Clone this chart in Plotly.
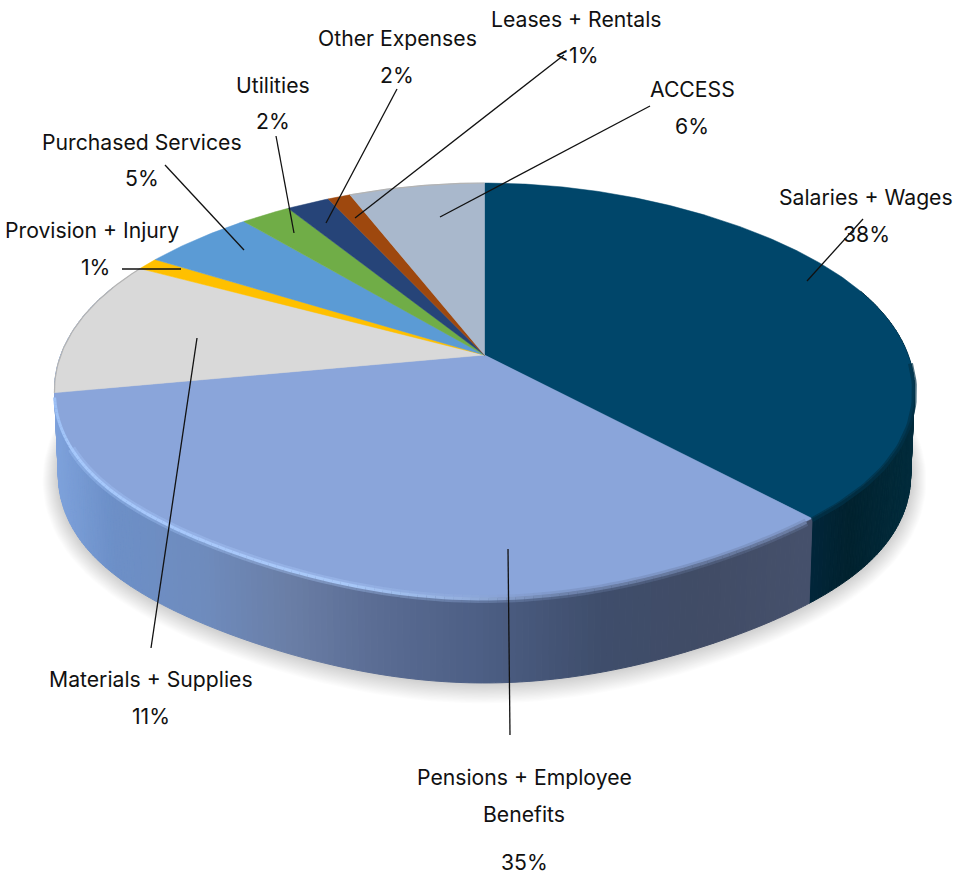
import numpy as np
import plotly.graph_objects as go

# ---------- data ----------
categories = ["Salaries + Wages", "Pensions + Employee Benefits", "Materials + Supplies",
              "Provision + Injury", "Purchased Services", "Utilities",
              "Other Expenses", "Leases + Rentals", "ACCESS"]
shares = [38.2, 33.9, 10.8, 1.0, 5.0, 2.2, 1.9, 1.0, 6.0]
percent_labels = ["38%", "35%", "11%", "1%", "5%", "2%", "2%", "<1%", "6%"]
colors = ["#00466a", "#8aa5da", "#d9d9d9", "#ffc000", "#5b9bd5",
          "#70ad47", "#264478", "#9e480e", "#a9b8cc"]

# ---------- geometry of the tilted disc ----------
CX, CY = 484.5, 355.0
A, B, K = 423.7, 201.4, 0.171
DEPTH = 85.0
MID_Y = 390.0


def project(deg):
    t = np.radians(deg)
    u, v = np.sin(t), np.cos(t)
    w = 1 + K * v
    x, y = CX + A * u / w, CY - B * v / w
    # the drawn disc is slightly flatter at the shoulders than a true ellipse
    n2 = np.clip(((x - CX) / 430.0) ** 2, 0, 1)
    c = np.where(y > MID_Y, 0.05, 0.02)
    y = MID_Y + (y - MID_Y) * (1 - c * 4 * n2 * (1 - n2))
    return x, y


def bottom(deg):
    x, y = project(deg)
    return CX + (x - CX) * 0.991, y + DEPTH


def hex_rgb(h):
    return np.array([int(h[i:i + 2], 16) for i in (1, 3, 5)], float)


def ramp(x, xs, cols):
    rgb = [np.interp(x, xs, [hex_rgb(c)[i] for c in cols]) for i in range(3)]
    return "rgb(%d,%d,%d)" % tuple(rgb)


fig = go.Figure()


def poly(xs, ys, fill, line=None, width=0.8):
    fig.add_trace(go.Scatter(x=xs, y=ys, mode="lines", fill="toself", fillcolor=fill,
                             line=dict(color=line or fill, width=width),
                             hoverinfo="skip", showlegend=False))


def stroke(xs, ys, color, width):
    fig.add_trace(go.Scatter(x=xs, y=ys, mode="lines", line=dict(color=color, width=width),
                             hoverinfo="skip", showlegend=False))


edges = np.concatenate([[0], np.cumsum(shares)]) * 3.6
edges[-1] = 360.0
split = edges[1]

# ---------- soft shadow ----------
circle = np.linspace(0, 360, 181)
bx, by = bottom(circle)
cy_b = MID_Y + DEPTH
for e in range(16, 0, -1):
    poly(CX + (bx - CX) * (1 + e / 430), cy_b + (by - cy_b) * (1 + e / 210) + e * 0.3,
         "rgba(0,0,0,0.012)", line="rgba(0,0,0,0)", width=0)

# ---------- side wall ----------
dark_x = [812, 850, 908]
dark_c = ["#02263a", "#01222f", "#022b3b"]
pen_x = [55, 110, 200, 290, 380, 480, 600, 700, 812]
pen_c = ["#7ea2dc", "#6d90c8", "#6f8cbe", "#6a7ea6", "#5a6c93", "#4d5f85",
         "#3f4e6c", "#414c66", "#46516c"]
wall_angles = np.arange(70, 292, 0.75)
for a0, a1 in zip(wall_angles[:-1], wall_angles[1:]):
    t = np.array([a0, a1])
    x0, y0 = project(t)
    x1, y1 = bottom(t)
    xm = x0.mean()
    col = ramp(xm, dark_x, dark_c) if (a0 + a1) / 2 < split else ramp(xm, pen_x, pen_c)
    poly([x0[0], x0[1], x1[1], x1[0], x0[0]], [y0[0], y0[1], y1[1], y1[0], y0[0]], col, width=1.0)

# ---------- top face ----------
for start, end, c in zip(edges[:-1], edges[1:], colors):
    t = np.linspace(start, end, max(3, int(end - start) * 2 + 2))
    x, y = project(t)
    poly(np.r_[CX, x, CX], np.r_[CY, y, CY], c, width=0.5)

# ---------- rim: highlight and blur along the front edge ----------
rim_x = [55, 70, 200, 350, 470, 560, 700, 812]
rim_c = ["#9dc0f5", "#a6c8fb", "#a8c9fb", "#a8c8f8", "#93aedd", "#6f84ae", "#65779c", "#6d7fa6"]
rim_angles = np.arange(split + 1.0, edges[2] - 1.0, 1.0)
for a0, a1 in zip(rim_angles[:-1], rim_angles[1:]):
    x, y = project(np.array([a0, a1]))
    col = ramp(x.mean(), rim_x, rim_c)
    if x.mean() > 72:
        stroke(x, y + 1.0, col.replace("rgb(", "rgba(").replace(")", ",0.35)"), 8)
    stroke(x, y + 1.0, col, 3)
t = np.linspace(92, split, 40)
x, y = project(t)
stroke(x, y + 1.5, "rgba(1,50,72,0.7)", 5)
for i in (2, 8):
    t = np.linspace(edges[i], edges[i + 1], 40)
    x, y = project(t)
    stroke(x, y, "#b4b4b4", 1.2)

# ---------- leader lines (label anchor -> point on the slice) ----------
leaders = [((863, 219), (807, 281)), ((510, 735), (508, 549)), ((151, 648), (197, 338)),
           ((122, 269), (181, 269)), ((165, 165), (244, 250)), ((276, 136), (294, 233)),
           ((397, 89), (326, 223)), ((564, 55), (355, 218)), ((650, 106), (440, 217))]
for (x0, y0), (x1, y1) in leaders:
    stroke([x0, x1], [y0, y1], "#111111", 1.3)

# ---------- labels ----------
name_lines = [["Salaries + Wages"], ["Pensions + Employee", "Benefits"], ["Materials + Supplies"],
              ["Provision + Injury"], ["Purchased Services"], ["Utilities"],
              ["Other Expenses"], ["Leases + Rentals"], ["ACCESS"]]
name_pos = [[(866, 197)], [(524, 777), (524, 814)], [(151, 679)], [(92, 230)], [(142, 142)],
            [(273, 85)], [(397, 38)], [(576, 19)], [(692, 89)]]
pct_pos = [(866, 234), (524, 862), (151, 716), (95, 267), (142, 178),
           (273, 121), (397, 75), (576, 55), (692, 126)]
FONT = dict(family="Inter", size=21.2, color="#111111")
for lines, spots, pct, spot in zip(name_lines, name_pos, percent_labels, pct_pos):
    for txt, (x, y) in zip(lines + [pct], spots + [spot]):
        fig.add_annotation(x=x, y=y, text=txt.replace("<", "&lt;"), showarrow=False,
                           xref="x", yref="y", xanchor="center", yanchor="middle", font=FONT)

fig.update_layout(
    width=956, height=882, margin=dict(l=0, r=0, t=0, b=0),
    paper_bgcolor="white", plot_bgcolor="white", showlegend=False,
    xaxis=dict(range=[0, 956], visible=False, fixedrange=True),
    yaxis=dict(range=[882, 0], visible=False, fixedrange=True),
)
fig.write_html("out.html", post_script="document.body.style.margin='0';",
               config={"displayModeBar": False})
